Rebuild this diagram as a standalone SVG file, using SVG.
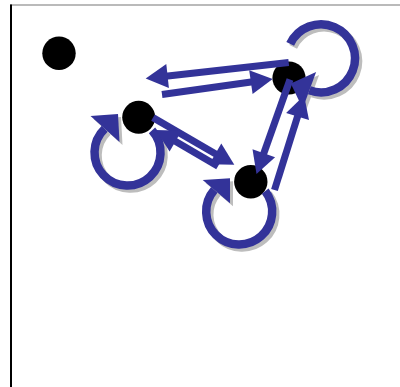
<svg xmlns="http://www.w3.org/2000/svg" width="400" height="387" viewBox="0 0 400 387">
<style>
.node{fill:#000}
.loop{fill:none;stroke:#333399;stroke-width:8.5}
.loopsh{fill:none;stroke:#bdbdbd;stroke-width:8.5}
.edge{fill:none;stroke:#333399;stroke-width:7}
.head{fill:#333399}
.headsh{fill:#bdbdbd}
</style>
<rect width="400" height="387" fill="#fff"/>
<line x1="10" y1="5" x2="400" y2="5" stroke="#777" stroke-width="1.2"/>
<line x1="11" y1="4.5" x2="11" y2="387" stroke="#000" stroke-width="2"/>
<g id="nodeA"><circle class="node" cx="59" cy="53.3" r="16.7"/></g>
<g id="nodeB"><circle class="node" cx="138.7" cy="117.3" r="16.5"/></g>
<g id="nodeC"><circle class="node" cx="289" cy="78" r="16.6"/></g>
<g id="nodeD"><circle class="node" cx="250.8" cy="181.7" r="16.7"/></g>
<g id="connectors">
  <g id="shadows" transform="translate(3,3)">
    <path class="loopsh" d="M152,130.4 A33,33 0 1 1 104.7,128.7"/>
    <polygon class="headsh" points="90.5,116 118,114 119.5,142"/>
    <path class="loopsh" d="M265.2,191.2 A33,33 0 1 1 214.3,189.85"/>
    <polygon class="headsh" points="202.7,180 230,178.3 230,203.3"/>
    <path class="loopsh" d="M290.2,43.9 A34,34 0 1 1 309.4,90.25"/>
    <polygon class="headsh" points="290.8,83.5 316.1,71.9 302.7,108.6"/>
  </g>
  <g id="loopB">
    <path class="loop" d="M152,130.4 A33,33 0 1 1 104.7,128.7"/>
    <polygon class="head" points="90.5,116 118,114 119.5,142"/>
  </g>
  <g id="loopD">
    <path class="loop" d="M265.2,191.2 A33,33 0 1 1 214.3,189.85"/>
    <polygon class="head" points="202.7,180 230,178.3 230,203.3"/>
  </g>
  <g id="loopC">
    <path class="loop" d="M290.2,43.9 A34,34 0 1 1 309.4,90.25"/>
    <polygon class="head" points="290.8,83.5 316.1,71.9 302.7,108.6"/>
  </g>
  <g id="C-B">
    <line class="edge" x1="288.7" y1="62.5" x2="165.6" y2="76.3"/>
    <polygon class="head" points="145.7,78.5 168.9,88 166.3,64.1"/>
  </g>
  <g id="B-C">
    <line class="edge" x1="162" y1="94.5" x2="252.9" y2="81.8"/>
    <polygon class="head" points="272.7,79 252.6,93.9 249.2,70.2"/>
  </g>
  <g id="B-D">
    <line class="edge" x1="153" y1="117.6" x2="217" y2="154.8"/>
    <polygon class="head" points="234.3,164.8 209.3,164.2 221.3,143.4"/>
  </g>
  <g id="D-B">
    <line class="edge" x1="218" y1="166.3" x2="174" y2="140.6"/>
    <polygon class="head" points="155.8,130 169.6,151.5 181.6,130.7"/>
  </g>
  <g id="C-D">
    <line class="edge" x1="290" y1="79.5" x2="263.2" y2="155"/>
    <polygon class="head" points="256.5,174 275.1,157.3 252.5,149.3"/>
  </g>
  <g id="D-C">
    <line class="edge" x1="274.5" y1="190" x2="298.1" y2="114.6"/>
    <polygon class="head" points="304.1,95.5 286.1,112.9 309,120.1"/>
  </g>
</g>
</svg>
